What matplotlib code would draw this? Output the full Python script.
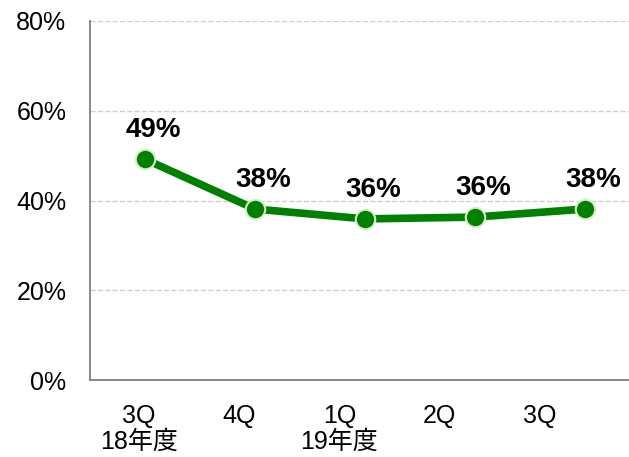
import matplotlib
matplotlib.use('Agg')
import matplotlib.pyplot as plt

plt.rcParams['font.family'] = ['Liberation Sans', 'Noto Sans CJK JP', 'DejaVu Sans']

# データ
quarters = ['3Q\n18年度', '4Q', '1Q\n19年度', '2Q', '3Q']
values = [49.2, 38.1, 35.9, 36.3, 38.1]
value_labels = ['49%', '38%', '36%', '36%', '38%']
y_ticks = [0, 20, 40, 60, 80]

W, H = 629, 457
fig = plt.figure(figsize=(W / 100, H / 100), dpi=100)
ax = fig.add_axes([90 / W, 77 / H, 550 / W, 359 / H])

x = list(range(len(values)))
ax.plot(x, values, '-', color='#008000', linewidth=5.5, zorder=3)
ax.plot(x, values, 'o', color='#008000', markersize=14,
        markeredgecolor='#d9ecc6', markeredgewidth=1.5, zorder=4)

for xi, v, lab in zip(x, values, value_labels):
    ax.annotate(lab, (xi, v), xytext=(6, 21), textcoords='offset points',
                ha='center', va='center', fontsize=20, fontweight='bold')

ax.set_xlim(-0.5, 4.5)
ax.set_ylim(0, 80)
ax.set_yticks(y_ticks)
ax.set_yticklabels([f'{t}%' for t in y_ticks], fontsize=18)
ax.tick_params(axis='y', length=0, pad=17)
ax.set_xticks([])
ax.grid(axis='y', linestyle='--', color='#d0d0d0', linewidth=1)
ax.set_axisbelow(True)

for s in ['top', 'right']:
    ax.spines[s].set_visible(False)
ax.spines['left'].set_color('#808080')
ax.spines['bottom'].set_color('#808080')
ax.spines['left'].set_linewidth(1.3)
ax.spines['bottom'].set_linewidth(1.3)

# カテゴリラベル用の軸 (元の図ではラベル間隔がやや狭い)
ax2 = ax.twiny()
ax2.set_xlim(-0.49, 5.0)
ax2.xaxis.set_ticks_position('bottom')
ax2.set_xticks(x)
ax2.set_xticklabels(quarters, fontsize=18, linespacing=1.12)
ax2.tick_params(axis='x', length=0, pad=17)
for s in ax2.spines.values():
    s.set_visible(False)

fig.savefig('out.png', dpi=100)
